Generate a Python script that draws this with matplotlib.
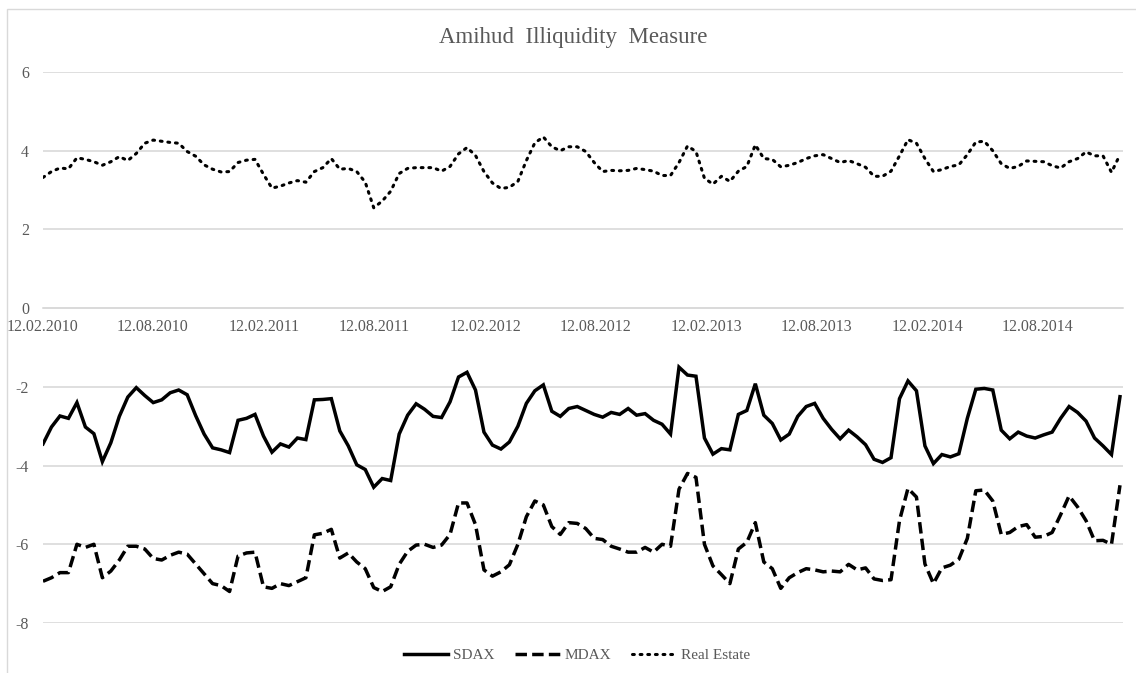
import matplotlib
matplotlib.use("Agg")
import matplotlib.pyplot as plt
from matplotlib.patches import Rectangle
import pandas as pd

plt.rcParams['font.family'] = ['Liberation Serif', 'DejaVu Serif']

title = "Amihud  Illiquidity  Measure"
series_names = ["SDAX", "MDAX", "Real Estate"]
start_date = "2010-02-12"
step = "14D"
tick_dates = ["2010-02-12", "2010-08-12", "2011-02-12", "2011-08-12", "2012-02-12",
              "2012-08-12", "2013-02-12", "2013-08-12", "2014-02-12", "2014-08-12"]
tick_labels = ["12.02.2010", "12.08.2010", "12.02.2011", "12.08.2011", "12.02.2012",
               "12.08.2012", "12.02.2013", "12.08.2013", "12.02.2014", "12.08.2014"]
y_ticks = [6, 4, 2, 0, -2, -4, -6, -8]

sdax = [-3.45, -3.02, -2.74, -2.8, -2.4, -3.02, -3.19, -3.9, -3.42, -2.75,
        -2.26, -2.02, -2.22, -2.4, -2.33, -2.15, -2.08, -2.2, -2.73, -3.2,
        -3.55, -3.6, -3.67, -2.85, -2.8, -2.7, -3.25, -3.66, -3.45, -3.53,
        -3.3, -3.34, -2.33, -2.32, -2.3, -3.12, -3.5, -3.98, -4.1, -4.55,
        -4.33, -4.38, -3.2, -2.72, -2.43, -2.57, -2.75, -2.78, -2.38, -1.75,
        -1.63, -2.08, -3.15, -3.48, -3.58, -3.4, -3.0, -2.42, -2.1, -1.95,
        -2.62, -2.75, -2.55, -2.5, -2.6, -2.7, -2.77, -2.65, -2.7, -2.55,
        -2.72, -2.68, -2.85, -2.95, -3.2, -1.5, -1.7, -1.73, -3.3, -3.71,
        -3.57, -3.6, -2.7, -2.6, -1.92, -2.72, -2.93, -3.35, -3.2, -2.75,
        -2.5, -2.42, -2.8, -3.08, -3.32, -3.1, -3.27, -3.47, -3.84, -3.92,
        -3.8, -2.3, -1.85, -2.1, -3.5, -3.95, -3.72, -3.78, -3.7, -2.8,
        -2.06, -2.04, -2.08, -3.1, -3.32, -3.15, -3.25, -3.3, -3.22, -3.15,
        -2.8, -2.5, -2.65, -2.87, -3.3, -3.5, -3.72, -2.25]

mdax = [-6.94, -6.85, -6.72, -6.72, -6.0, -6.08, -6.0, -6.85, -6.68, -6.4,
        -6.05, -6.05, -6.12, -6.36, -6.4, -6.28, -6.2, -6.25, -6.5, -6.75,
        -7.0, -7.05, -7.2, -6.3, -6.22, -6.2, -7.08, -7.12, -7.0, -7.05,
        -6.95, -6.85, -5.76, -5.72, -5.62, -6.35, -6.22, -6.45, -6.62, -7.1,
        -7.2, -7.08, -6.51, -6.18, -6.02, -6.0, -6.08, -6.02, -5.75, -4.95,
        -4.95, -5.5, -6.65, -6.81, -6.7, -6.52, -6.0, -5.3, -4.9, -5.0,
        -5.55, -5.75, -5.45, -5.47, -5.6, -5.85, -5.88, -6.05, -6.12, -6.2,
        -6.2, -6.08, -6.2, -6.0, -6.05, -4.6, -4.2, -4.3, -6.0, -6.55,
        -6.77, -7.0, -6.12, -5.95, -5.45, -6.45, -6.62, -7.12, -6.85, -6.72,
        -6.62, -6.65, -6.7, -6.68, -6.7, -6.51, -6.65, -6.6, -6.88, -6.92,
        -6.9, -5.4, -4.58, -4.8, -6.5, -7.0, -6.6, -6.53, -6.38, -5.85,
        -4.64, -4.62, -4.9, -5.75, -5.7, -5.55, -5.5, -5.82, -5.8, -5.7,
        -5.25, -4.77, -5.05, -5.4, -5.91, -5.9, -6.0, -4.5]

real_estate = [3.32, 3.47, 3.56, 3.54, 3.82, 3.78, 3.72, 3.63, 3.72, 3.85,
               3.75, 3.93, 4.19, 4.27, 4.24, 4.21, 4.19, 3.98, 3.86, 3.64,
               3.53, 3.46, 3.47, 3.7, 3.76, 3.78, 3.4, 3.05, 3.1, 3.18,
               3.24, 3.2, 3.47, 3.57, 3.8, 3.53, 3.55, 3.47, 3.2, 2.55,
               2.72, 2.97, 3.42, 3.55, 3.57, 3.57, 3.57, 3.48, 3.6, 3.92,
               4.08, 3.88, 3.47, 3.18, 3.04, 3.07, 3.22, 3.75, 4.2, 4.35,
               4.1, 4.0, 4.1, 4.1, 3.98, 3.7, 3.47, 3.5, 3.49, 3.5,
               3.55, 3.52, 3.48, 3.37, 3.37, 3.7, 4.12, 3.98, 3.3, 3.15,
               3.35, 3.22, 3.48, 3.6, 4.15, 3.8, 3.78, 3.59, 3.63, 3.7,
               3.8, 3.87, 3.9, 3.8, 3.7, 3.75, 3.67, 3.58, 3.35, 3.35,
               3.48, 3.87, 4.28, 4.19, 3.8, 3.47, 3.52, 3.6, 3.64, 3.9,
               4.22, 4.24, 4.0, 3.67, 3.55, 3.6, 3.74, 3.73, 3.72, 3.62,
               3.56, 3.72, 3.8, 3.97, 3.87, 3.87, 3.45, 3.9]

dates = pd.date_range(start=start_date, periods=len(sdax), freq=step)

text_color = "#595959"
grid_color = "#d9d9d9"

fig = plt.figure(figsize=(11.36, 6.73), dpi=100)
fig.patches.append(Rectangle((7 / 1136, -0.05), 1.2, 1 - 9.5 / 673 + 0.05,
                             transform=fig.transFigure, fill=False,
                             edgecolor=grid_color, linewidth=1.0, zorder=0))
ax = fig.add_axes([43 / 1136, 1 - 623 / 673, (1123 - 43) / 1136, (623 - 72) / 673])

ax.plot(dates, sdax, color="black", linewidth=2.5, linestyle="-", label=series_names[0],
        solid_joinstyle="miter")
ax.plot(dates, mdax, color="black", linewidth=2.5, linestyle=(0, (3.3, 1.5)),
        label=series_names[1])
ax.plot(dates, real_estate, color="black", linewidth=2.2, linestyle=(0, (0.6, 1.9)),
        dash_capstyle="round", label=series_names[2])

ax.set_xlim(pd.Timestamp("2010-02-12"), pd.Timestamp("2014-12-31"))
ax.set_ylim(-8, 6)
ax.set_yticks(y_ticks)
ax.set_yticklabels([str(v) for v in y_ticks])
ax.set_xticks([pd.Timestamp(d) for d in tick_dates])
ax.set_xticklabels(tick_labels)

ax.grid(axis="y", color=grid_color, linewidth=1.2)
ax.set_axisbelow(True)
for s in ["top", "right", "left"]:
    ax.spines[s].set_visible(False)
ax.spines["bottom"].set_position(("data", 0))
ax.spines["bottom"].set_color(grid_color)
ax.spines["bottom"].set_linewidth(1.2)
ax.tick_params(axis="both", length=0, labelsize=11.5, labelcolor=text_color)
ax.tick_params(axis="y", pad=10)
ax.tick_params(axis="x", pad=8)

fig.text(573.5 / 1136, 1 - 37 / 673, title, ha="center", va="center",
         fontsize=16.5, color=text_color)

leg = fig.legend(loc="center", bbox_to_anchor=(577 / 1136, 1 - 655 / 673), ncol=3,
                 frameon=False, fontsize=11, handlelength=2.9, handletextpad=0.3,
                 columnspacing=1.4)
for t in leg.get_texts():
    t.set_color(text_color)

fig.savefig("out.png", dpi=100)
